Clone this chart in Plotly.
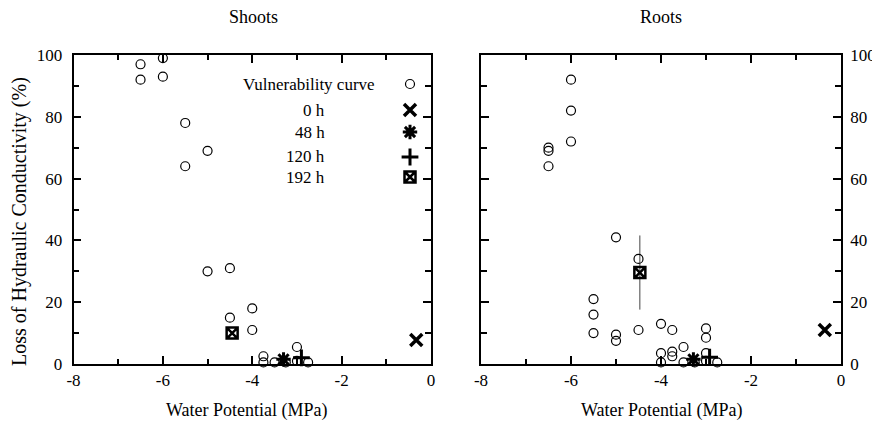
import plotly.graph_objects as go

# ---------------- data ----------------
shoot_vc_x = [-6.5, -6.5, -6, -6, -5.5, -5.5, -5, -5, -4.5, -4.5, -4, -4,
              -3.75, -3.75, -3.5, -3.25, -3, -3, -2.75]
shoot_vc_y = [97, 92, 99, 93, 78, 64, 69, 30, 31, 15, 18, 11,
              2.5, 0.5, 0.5, 0.5, 5.5, 1, 0.5]
shoot_0h_x, shoot_0h_y = [-0.33], [7.8]
shoot_48h_x, shoot_48h_y = [-3.3], [1.5]
shoot_120h_x, shoot_120h_y = [-2.9], [2.0]
shoot_192h_x, shoot_192h_y = [-4.45], [10]

root_vc_x = [-6.5, -6.5, -6.5, -6, -6, -6, -5.5, -5.5, -5.5, -5, -5, -5,
             -4.5, -4.5, -4, -4, -4, -3.75, -3.75, -3.75, -3.5, -3.5, -3.25,
             -3, -3, -3, -3, -2.75]
root_vc_y = [70, 69, 64, 92, 82, 72, 21, 16, 10, 41, 9.5, 7.5,
             34, 11, 13, 3.5, 0.5, 11, 4, 2.5, 5.5, 0.5, 0.5,
             11.5, 8.5, 3.5, 1, 0.5]
root_0h_x, root_0h_y = [-0.36], [11]
root_48h_x, root_48h_y = [-3.28], [1.5]
root_120h_x, root_120h_y = [-2.92], [2.2]
root_192h_x, root_192h_y, root_192h_err = [-4.47], [29.6], [12]

legend_labels = ["Vulnerability curve", "0 h", "48 h", "120 h", "192 h"]
x_ticks = [-8, -6, -4, -2, 0]
x_ticktext = ["-8", "-6", "-4", "-2", "0"]
y_ticks = [0, 20, 40, 60, 80, 100]
panel_titles = ["Shoots", "Roots"]
x_title = "Water Potential (MPa)"
y_title = "Loss of Hydraulic Conductivity (%)"

# ---------------- styles ----------------
W, H = 872, 438
FONT = "Liberation Serif, Times New Roman, serif"
BLACK = "black"
sym = {
    "vc": dict(symbol="circle-open", size=9, color=BLACK, line=dict(width=1.2, color=BLACK)),
    "0h": dict(symbol="x-thin-open", size=12, color=BLACK, line=dict(width=3.5, color=BLACK)),
    "48h": dict(symbol="asterisk-open", size=12, color=BLACK, line=dict(width=3, color=BLACK)),
    "120h": dict(symbol="cross-thin-open", size=12, color=BLACK, line=dict(width=3, color=BLACK)),
    "192h": dict(symbol="square-x-open", size=11, color=BLACK, line=dict(width=2.5, color=BLACK)),
}


def px(xp):
    return xp / W


def py(yp):
    return 1 - yp / H


fig = go.Figure()


def add(x, y, key, xa, ya, err=None):
    kw = dict(x=x, y=y, mode="markers", marker=sym[key], xaxis=xa, yaxis=ya,
              showlegend=False, cliponaxis=False, hoverinfo="skip")
    if err is not None:
        kw["error_y"] = dict(type="data", array=err, visible=True, width=0,
                             thickness=1, color="#444")
    fig.add_trace(go.Scatter(**kw))


# shoots
add(shoot_vc_x, shoot_vc_y, "vc", "x", "y")
add(shoot_192h_x, shoot_192h_y, "192h", "x", "y")
add(shoot_48h_x, shoot_48h_y, "48h", "x", "y")
add(shoot_120h_x, shoot_120h_y, "120h", "x", "y")
add(shoot_0h_x, shoot_0h_y, "0h", "x", "y")
# roots
add(root_192h_x, root_192h_y, "192h", "x2", "y2", err=root_192h_err)
add(root_vc_x, root_vc_y, "vc", "x2", "y2")
add(root_48h_x, root_48h_y, "48h", "x2", "y2")
add(root_120h_x, root_120h_y, "120h", "x2", "y2")
add(root_0h_x, root_0h_y, "0h", "x2", "y2")

# legend keys on an overlay axis (unit coordinates of the left panel)
leg_keys = ["vc", "0h", "48h", "120h", "192h"]
leg_y_px = [84, 110, 132, 157, 177]
left_dom = [px(73.5), px(431)]
right_dom = [px(481), px(841)]
y_dom = [py(364), py(55)]
leg_x_px = 410
for k, yp in zip(leg_keys, leg_y_px):
    fig.add_trace(go.Scatter(
        x=[(leg_x_px - 73.5) / (431 - 73.5)], y=[(364 - yp) / (364 - 55)],
        mode="markers", marker=sym[k], xaxis="x3", yaxis="y3",
        showlegend=False, cliponaxis=False, hoverinfo="skip"))

ax_common = dict(showline=True, linewidth=1.5, linecolor=BLACK, mirror="ticks",
                 ticks="inside", ticklen=8, tickwidth=1.5, tickcolor=BLACK,
                 showgrid=False, zeroline=False,
                 tickfont=dict(family=FONT, size=17, color=BLACK))

xcfg = dict(ax_common, range=[-8, 0], tickvals=x_ticks, ticktext=x_ticktext,
            minor=dict(dtick=1, ticks="inside", ticklen=5, tickwidth=1.5, tickcolor=BLACK))
ycfg = dict(ax_common, range=[0, 100], tickvals=y_ticks,
            minor=dict(dtick=10, ticks="inside", ticklen=6, tickwidth=1.5, tickcolor=BLACK))

fig.update_layout(
    width=W, height=H,
    margin=dict(l=0, r=0, t=0, b=0),
    paper_bgcolor="white", plot_bgcolor="rgba(0,0,0,0)",
    template=None,
    xaxis=dict(xcfg, domain=left_dom, anchor="y"),
    yaxis=dict(ycfg, domain=y_dom, anchor="x", ticklabelstandoff=6),
    xaxis2=dict(xcfg, domain=right_dom, anchor="y2"),
    yaxis2=dict(ycfg, domain=y_dom, anchor="x2", side="right", ticklabelstandoff=4),
    xaxis3=dict(domain=left_dom, range=[0, 1], visible=False, anchor="y3", overlaying="x"),
    yaxis3=dict(domain=y_dom, range=[0, 1], visible=False, anchor="x3", overlaying="y"),
)

ann = []
tf = dict(family=FONT, size=18, color=BLACK)
yf = dict(family=FONT, size=20, color=BLACK)


def A(text, xp, yp, font, xanchor="center", **kw):
    return dict(text=text, x=px(xp), y=py(yp), xref="paper", yref="paper",
                xanchor=xanchor, yanchor="middle", showarrow=False, font=font, **kw)


ann.append(A(panel_titles[0], 254, 17, tf))
ann.append(A(panel_titles[1], 661, 17, tf))
ann.append(A(x_title, 247, 410, tf))
ann.append(A(x_title, 662, 410, tf))
ann.append(A(y_title, 19, 222, yf, textangle=-90))
leg_text_right = [377, 327, 327, 327, 327]
lf = dict(family=FONT, size=17, color=BLACK)
for lab, xr, yp in zip(legend_labels, leg_text_right, leg_y_px):
    ann.append(A(lab, xr, yp, lf, xanchor="right"))
fig.update_layout(annotations=ann)

fig.write_html("out.html")
